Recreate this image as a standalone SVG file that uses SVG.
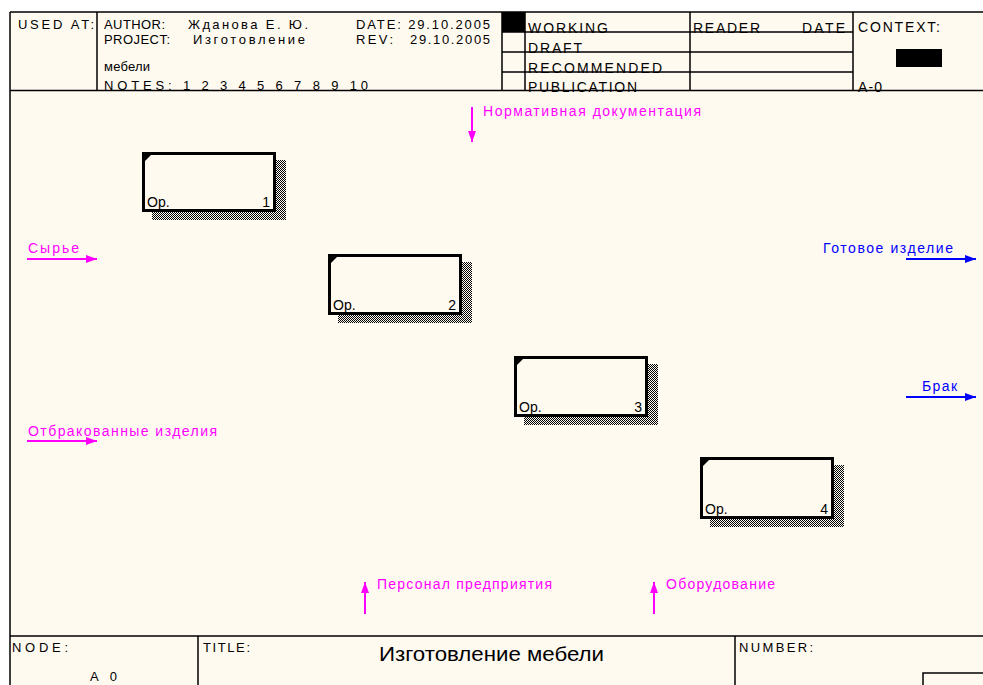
<svg xmlns="http://www.w3.org/2000/svg" width="983" height="685" viewBox="0 0 983 685">
<defs>
<style>
.frame{fill:none;stroke:#000;stroke-width:1.5}
.hd{font-family:"Liberation Sans",Arial,sans-serif;font-size:13px;fill:#000}
.hd2{font-family:"Liberation Sans",Arial,sans-serif;font-size:14px;fill:#000}
.box{fill:#FFFAF0;stroke:#000;stroke-width:3}
.shadow{fill:url(#hatch)}
.notch{fill:#000}
.bt{font-family:"Liberation Sans",Arial,sans-serif;font-size:14px;fill:#000}
.lm{font-family:"Liberation Sans",Arial,sans-serif;font-size:14px;fill:#FF00FF}
.lb{font-family:"Liberation Sans",Arial,sans-serif;font-size:14px;fill:#0000FF}
.am{stroke:#FF00FF;stroke-width:2;fill:none}
.ab{stroke:#0000FF;stroke-width:2;fill:none}
</style>
<pattern id="hatch" width="2" height="2" patternUnits="userSpaceOnUse">
<rect x="0" y="0" width="1" height="1" fill="#000"/>
<rect x="1" y="1" width="1" height="1" fill="#000"/>
</pattern>
<marker id="hm" markerUnits="userSpaceOnUse" markerWidth="12" markerHeight="10" refX="11" refY="4" orient="auto">
<path d="M0,0 L11,4 L0,8 Z" fill="#FF00FF"/>
</marker>
<marker id="hb" markerUnits="userSpaceOnUse" markerWidth="12" markerHeight="10" refX="11" refY="4" orient="auto">
<path d="M0,0 L11,4 L0,8 Z" fill="#0000FF"/>
</marker>
</defs>
<rect x="0" y="0" width="983" height="685" fill="#FFFFFF"/>
<rect x="10" y="12" width="973" height="673" fill="#FFFAF0"/>

<g id="frame">
<path class="frame" d="M10,12 H983 M10,12 V685 M10,90.5 H983 M97,12 V90.5 M502,12 V90.5 M525,12 V90.5 M690,12 V90.5 M853,12 V90.5 M502,32 H853 M502,52 H853 M502,72 H853"/>
<rect x="502" y="12" width="23" height="20" fill="#000"/>
<rect x="896" y="49" width="46" height="18" fill="#000"/>
<path class="frame" d="M10,636 H983 M198,636 V685 M735,636 V685 M923,685 V673 H983"/>
<text class="hd" x="18" y="29" textLength="76" lengthAdjust="spacing">USED AT:</text>
<text class="hd" x="104" y="29" textLength="61" lengthAdjust="spacing">AUTHOR:</text>
<text class="hd" x="188" y="29" textLength="120" lengthAdjust="spacing">Жданова Е. Ю.</text>
<text class="hd" x="356" y="29" textLength="134" lengthAdjust="spacing">DATE: 29.10.2005</text>
<text class="hd" x="104" y="44" textLength="66" lengthAdjust="spacing">PROJECT:</text>
<text class="hd" x="193" y="44" textLength="112" lengthAdjust="spacing">Изготовление</text>
<text class="hd" x="356" y="44" textLength="37" lengthAdjust="spacing">REV:</text>
<text class="hd" x="410" y="44" textLength="80" lengthAdjust="spacing">29.10.2005</text>
<text class="hd" x="104" y="71" textLength="46" lengthAdjust="spacing">мебели</text>
<text class="hd" x="104" y="90" textLength="264" lengthAdjust="spacing">NOTES: 1 2 3 4 5 6 7 8 9 10</text>
<text class="hd2" x="528" y="33" textLength="80" lengthAdjust="spacing">WORKING</text>
<text class="hd2" x="528" y="53" textLength="54" lengthAdjust="spacing">DRAFT</text>
<text class="hd2" x="528" y="73" textLength="134" lengthAdjust="spacing">RECOMMENDED</text>
<text class="hd2" x="528" y="92" textLength="109" lengthAdjust="spacing">PUBLICATION</text>
<text class="hd2" x="693" y="33" textLength="67" lengthAdjust="spacing">READER</text>
<text class="hd2" x="802" y="33" textLength="43" lengthAdjust="spacing">DATE</text>
<text class="hd2" x="858" y="32" textLength="82" lengthAdjust="spacing">CONTEXT:</text>
<text class="hd2" x="858" y="92" textLength="24" lengthAdjust="spacing">A-0</text>
<text class="hd" x="12" y="652" textLength="56" lengthAdjust="spacing">NODE:</text>
<text class="hd" x="203" y="652" textLength="47" lengthAdjust="spacing">TITLE:</text>
<text class="hd" x="739" y="652" textLength="74" lengthAdjust="spacing">NUMBER:</text>
<text class="hd" x="90" y="681" textLength="27" lengthAdjust="spacing">A0</text>
<text x="379" y="661" font-family="'Liberation Sans',Arial,sans-serif" font-size="20" fill="#000" textLength="225" lengthAdjust="spacingAndGlyphs">Изготовление мебели</text>
</g>

<g id="node1">
<rect class="shadow" x="152" y="160" width="134" height="60"/>
<rect class="box" x="143.5" y="153.5" width="131" height="57"/>
<polygon class="notch" points="145,155 151,155 145,161"/>
<text class="bt" x="147" y="207">Op.</text>
<text class="bt" x="270" y="207" text-anchor="end">1</text>
</g>
<g id="node2">
<rect class="shadow" x="338" y="262" width="134" height="61"/>
<rect class="box" x="329.5" y="255.5" width="131" height="58"/>
<polygon class="notch" points="331,257 337,257 331,263"/>
<text class="bt" x="333" y="310">Op.</text>
<text class="bt" x="456" y="310" text-anchor="end">2</text>
</g>
<g id="node3">
<rect class="shadow" x="524" y="364" width="134" height="61"/>
<rect class="box" x="515.5" y="357.5" width="131" height="58"/>
<polygon class="notch" points="517,359 523,359 517,365"/>
<text class="bt" x="519" y="412">Op.</text>
<text class="bt" x="642" y="412" text-anchor="end">3</text>
</g>
<g id="node4">
<rect class="shadow" x="710" y="465" width="134" height="62"/>
<rect class="box" x="701.5" y="458.5" width="131" height="59"/>
<polygon class="notch" points="703,460 709,460 703,466"/>
<text class="bt" x="705" y="514">Op.</text>
<text class="bt" x="828" y="514" text-anchor="end">4</text>
</g>

<g id="connectors">
<path class="am" d="M27,259 H97" marker-end="url(#hm)"/>
<text class="lm" x="28" y="253" textLength="51" lengthAdjust="spacing">Сырье</text>
<path class="am" d="M27,441 H97" marker-end="url(#hm)"/>
<text class="lm" x="28" y="436" textLength="189" lengthAdjust="spacing">Отбракованные изделия</text>
<path class="ab" d="M906,259 H976" marker-end="url(#hb)"/>
<text class="lb" x="823" y="253" textLength="130" lengthAdjust="spacing">Готовое изделие</text>
<path class="ab" d="M906,397 H976" marker-end="url(#hb)"/>
<text class="lb" x="922" y="391" textLength="35" lengthAdjust="spacing">Брак</text>
<path class="am" d="M472,107 V142" marker-end="url(#hm)"/>
<text class="lm" x="483" y="116" textLength="218" lengthAdjust="spacing">Нормативная документация</text>
<path class="am" d="M365,614 V582" marker-end="url(#hm)"/>
<text class="lm" x="377" y="589" textLength="175" lengthAdjust="spacing">Персонал предприятия</text>
<path class="am" d="M654,614 V582" marker-end="url(#hm)"/>
<text class="lm" x="666" y="589" textLength="109" lengthAdjust="spacing">Оборудование</text>
</g>
</svg>
